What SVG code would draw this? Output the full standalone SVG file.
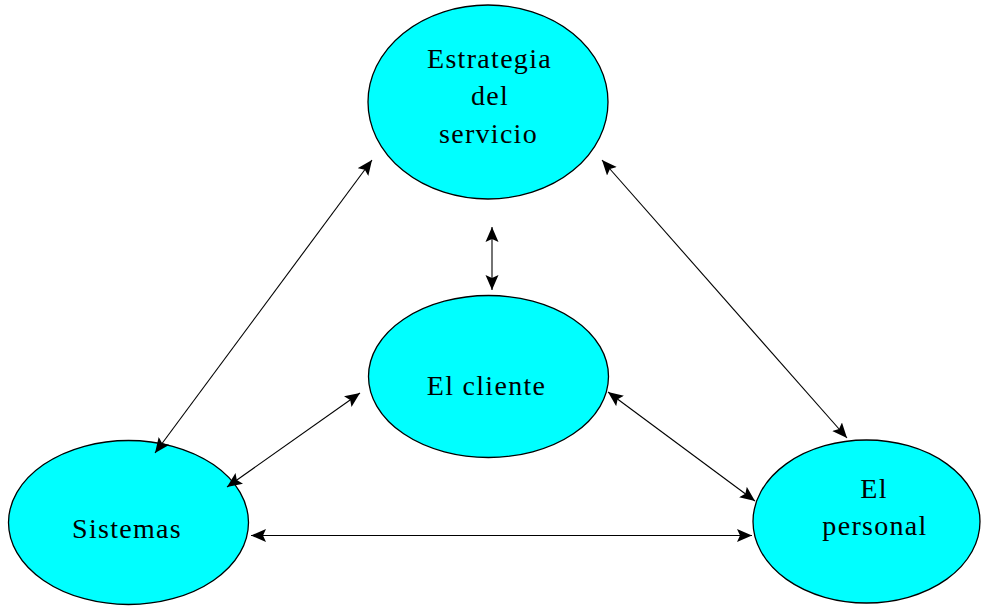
<svg xmlns="http://www.w3.org/2000/svg" width="981" height="606" viewBox="0 0 981 606">
<style>
.node ellipse{fill:#00FFFF;stroke:#000;stroke-width:1.3}
.node text{font-family:"Liberation Serif","Times New Roman",serif;font-size:28px;fill:#000;text-anchor:middle;letter-spacing:1.3px}
.conn line{stroke:#000;stroke-width:1.1;marker-start:url(#ah);marker-end:url(#ah)}
</style>
<defs>
<marker id="ah" markerUnits="userSpaceOnUse" markerWidth="16" markerHeight="16" viewBox="0 0 16 16" refX="15" refY="7" orient="auto-start-reverse">
<path d="M0,0.5 L15,7 L0,13.5 L3,7 z" fill="#000"/>
</marker>
</defs>
<rect width="981" height="606" fill="#fff"/>
<g class="node" id="estrategia">
<ellipse cx="488" cy="102" rx="120" ry="97"/>
<text x="489.5" y="68">Estrategia</text>
<text x="490" y="105">del</text>
<text x="488.5" y="143">servicio</text>
</g>
<g class="node" id="cliente">
<ellipse cx="488.5" cy="376.5" rx="120" ry="81"/>
<text x="486.5" y="395">El cliente</text>
</g>
<g class="node" id="sistemas">
<ellipse cx="128.5" cy="522.5" rx="120" ry="82"/>
<text x="127" y="538">Sistemas</text>
</g>
<g class="node" id="personal">
<ellipse cx="866.5" cy="521.5" rx="113.5" ry="81.5"/>
<text x="874" y="498">El</text>
<text x="875" y="535">personal</text>
</g>
<g class="conn" id="connectors">
<line x1="492" y1="227" x2="492" y2="290"/>
<line x1="155" y1="453" x2="372" y2="160"/>
<line x1="227" y1="487" x2="360" y2="393"/>
<line x1="602" y1="160" x2="847" y2="438"/>
<line x1="608" y1="392" x2="755" y2="501"/>
<line x1="251" y1="535.5" x2="752" y2="535.5"/>
</g>
</svg>
